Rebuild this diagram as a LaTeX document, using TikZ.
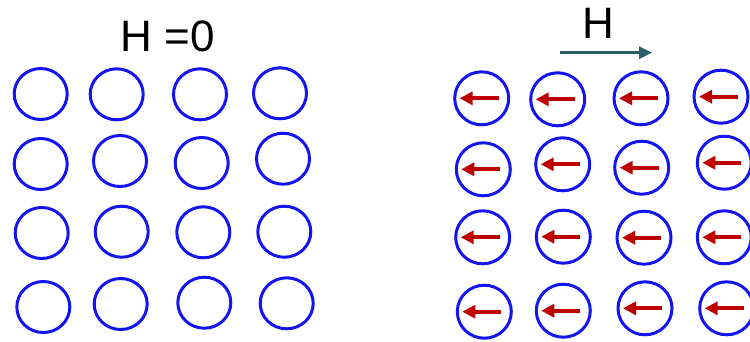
\documentclass[tikz,border=0pt]{standalone}
\usepackage{fontspec}
\setmainfont{Liberation Sans}
\usetikzlibrary{shapes.geometric,arrows.meta}
\definecolor{ringblue}{RGB}{20,20,240}
\definecolor{spinred}{RGB}{190,0,0}
\definecolor{fieldteal}{RGB}{40,95,105}
\tikzset{
  ring/.style={draw=ringblue, line width=3pt, ellipse, inner sep=0pt, minimum width=53pt, minimum height=51pt},
  spin/.style={draw=spinred, line width=3.8pt, -{Triangle[length=13pt,width=13pt]}},
  field/.style={draw=fieldteal, line width=3pt, -{Triangle[length=13pt,width=12pt]}},
  label/.style={inner sep=0pt, anchor=base, font=\fontsize{44}{44}\selectfont}
}
\begin{document}
\begin{tikzpicture}[x=1pt,y=-1pt]
\useasboundingbox (0,0) rectangle (750,341);
% left panel
\node[label] (h0) at (168,51) {H =0};
\node[ring] (a11) at (40.7,94) {};
\node[ring] (a12) at (116.7,94.3) {};
\node[ring] (a13) at (200,94.3) {};
\node[ring] (a14) at (280,93.3) {};
\node[ring] (a21) at (40.7,164) {};
\node[ring] (a22) at (120,161) {};
\node[ring] (a23) at (201.7,163) {};
\node[ring] (a24) at (283,158.7) {};
\node[ring] (a31) at (41.7,233) {};
\node[ring] (a32) at (121.7,231.7) {};
\node[ring] (a33) at (203.3,232.3) {};
\node[ring] (a34) at (284.3,231.7) {};
\node[ring] (a41) at (43.3,307) {};
\node[ring] (a42) at (120.7,304) {};
\node[ring] (a43) at (204.3,302.7) {};
\node[ring] (a44) at (286.7,303.3) {};
% right panel
\node[label] (h1) at (598,38) {H};
\coordinate (fs) at (560,52.7);
\coordinate (fe) at (652,52.7);
\draw[field] (fs) -- (fe);
\foreach \n/\x/\y in {b11/481.7/98.3, b12/557.7/99.3, b13/641/98.3, b14/721/96.7,
                      b21/483.3/169.3, b22/562.7/164.3, b23/641.7/167.7, b24/724.3/162.7,
                      b31/482.7/237.3, b32/563.3/236.7, b33/644/237.7, b34/724.3/237.3,
                      b41/484.3/311.7, b42/563.3/310.7, b43/645/308.3, b44/726.7/308.3}{
  \node[ring, minimum width=54pt, minimum height=53pt] (\n) at (\x,\y) {};
  \draw[spin] ([xshift=17pt]\n.center) -- ([xshift=-22pt]\n.center);
}
\end{tikzpicture}
\end{document}
